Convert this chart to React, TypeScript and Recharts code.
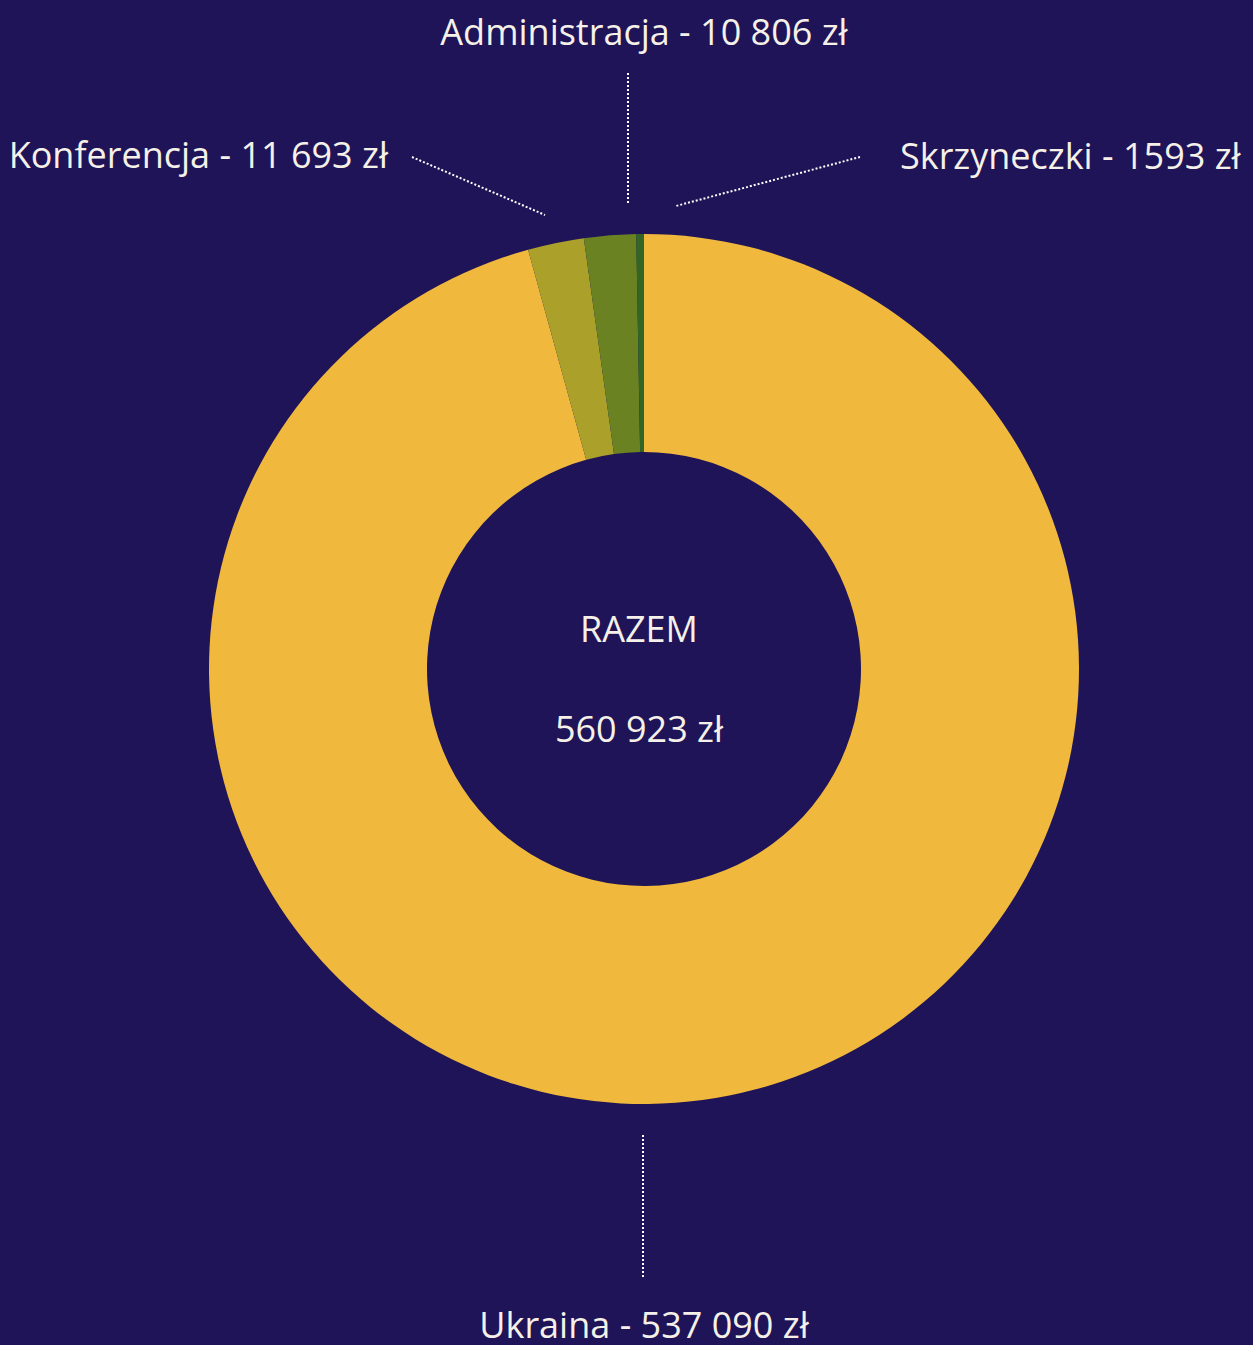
import React from 'react';
import { PieChart, Pie, Cell } from 'recharts';

const CATEGORIES = ['Ukraina', 'Konferencja', 'Administracja', 'Skrzyneczki'];
const AMOUNTS = [537090, 11693, 10806, 1593];
const COLORS = ['#f0b83c', '#aba02a', '#6a8222', '#336624'];
// total as printed in the source (does not equal the sum of the parts)
const TOTAL = 560923;

// label text + leader line positions, relative to pie centre
const LABEL_LAYOUT = [
  { tx: 0, ty: 669, anchor: 'middle', line: [-1, 466, -1, 608] },
  { tx: -256, ty: -501, anchor: 'end', line: [-232, -512, -99, -454] },
  { tx: 0, ty: -624, anchor: 'middle', line: [-16, -596, -16, -465] },
  { tx: 256, ty: -500, anchor: 'start', line: [216, -512, 32, -463] },
];

const BG = '#1f1457';
const TEXT = '#f5f1e8';
const FONT = '"Open Sans", sans-serif';
const FONT_SIZE = 36;

const fmt = (v: number) => {
  const s = String(v);
  if (s.length <= 4) return s;
  return s.replace(/\B(?=(\d{3})+(?!\d))/g, ' ');
};

const data = CATEGORIES.map((name, i) => ({ name, value: AMOUNTS[i] }));

const renderLabel = (props: any) => {
  const { cx, cy, index, name, value } = props;
  const l = LABEL_LAYOUT[index];
  if (!l) return null;
  const [x1, y1, x2, y2] = l.line;
  return (
    <g>
      {/* centre total goes with the first slice */}
      {index === 0 && (
        <g>
          <text x={cx - 5} y={cy - 27} textAnchor="middle" fill={TEXT} fontSize={FONT_SIZE} fontFamily={FONT}>
            RAZEM
          </text>
          <text x={cx - 5} y={cy + 73} textAnchor="middle" fill={TEXT} fontSize={FONT_SIZE} fontFamily={FONT}>
            {`${fmt(TOTAL)} zł`}
          </text>
        </g>
      )}
      <line
        x1={cx + x1}
        y1={cy + y1}
        x2={cx + x2}
        y2={cy + y2}
        stroke="#ffffff"
        strokeWidth={2}
        strokeDasharray="2 2"
      />
      <text
        x={cx + l.tx}
        y={cy + l.ty}
        textAnchor={l.anchor}
        fill={TEXT}
        fontSize={FONT_SIZE}
        fontFamily={FONT}
      >
        {`${name} - ${fmt(value)} zł`}
      </text>
    </g>
  );
};

export default function App() {
  return (
    <div style={{ position: 'absolute', left: 0, top: 0, width: 1253, height: 1345, background: BG }}>
      <PieChart width={1253} height={1345} margin={{ top: 0, right: 0, bottom: 0, left: 0 }}>
        <Pie
          data={data}
          dataKey="value"
          nameKey="name"
          cx={644}
          cy={669}
          innerRadius={217}
          outerRadius={435}
          startAngle={90}
          endAngle={-270}
          stroke="none"
          labelLine={false}
          label={renderLabel}
          isAnimationActive={false}
        >
          {data.map((d, i) => (
            <Cell key={d.name} fill={COLORS[i]} />
          ))}
        </Pie>
      </PieChart>
    </div>
  );
}
